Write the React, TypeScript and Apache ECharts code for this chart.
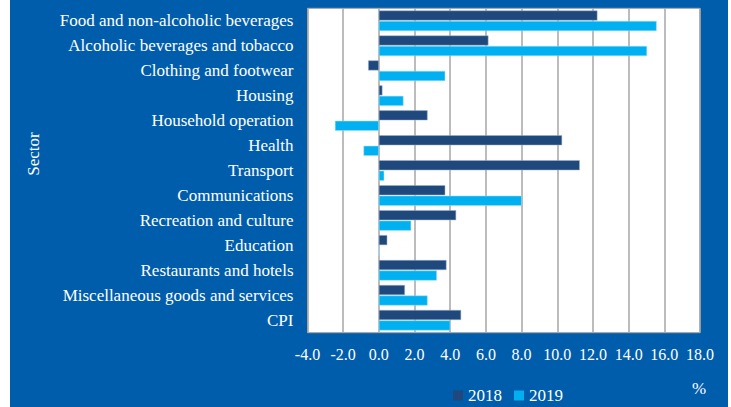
import React, { useEffect, useRef } from "react";
import * as echarts from "echarts";

const categories = [
  "Food and non-alcoholic beverages",
  "Alcoholic beverages and tobacco",
  "Clothing and footwear",
  "Housing",
  "Household operation",
  "Health",
  "Transport",
  "Communications",
  "Recreation and culture",
  "Education",
  "Restaurants and hotels",
  "Miscellaneous goods and services",
  "CPI",
];
const values2018 = [12.25, 6.14, -0.6, 0.2, 2.73, 10.27, 11.26, 3.72, 4.33, 0.47, 3.79, 1.46, 4.61];
const values2019 = [15.57, 15.03, 3.72, 1.38, -2.46, -0.86, 0.3, 8.01, 1.81, 0, 3.25, 2.73, 4.0];
const seriesNames = ["2018", "2019"];

const FONT = "Liberation Serif";

export default function App() {
  const ref = useRef<HTMLDivElement>(null);
  useEffect(() => {
    if (!ref.current) return;
    const chart = echarts.init(ref.current, undefined, { renderer: "svg" });
    chart.setOption({
      animation: false,
      textStyle: { fontFamily: FONT },
      graphic: [
        {
          type: "rect",
          z: -10,
          silent: true,
          shape: { x: 10, y: 0, width: 718, height: 407 },
          style: { fill: "#005DAB" },
        },
        {
          type: "text",
          x: 33,
          y: 154,
          rotation: Math.PI / 2,
          style: {
            text: "Sector",
            fill: "#ffffff",
            font: `17px "${FONT}"`,
            align: "center",
            verticalAlign: "middle",
          },
        },
        {
          type: "text",
          x: 699,
          y: 388,
          style: {
            text: "%",
            fill: "#ffffff",
            font: `17px "${FONT}"`,
            align: "center",
            verticalAlign: "middle",
          },
        },
      ],
      legend: {
        data: seriesNames,
        left: 448,
        top: 382,
        icon: "rect",
        itemWidth: 10,
        itemHeight: 10,
        itemGap: 12,
        itemStyle: { borderWidth: 0 },
        textStyle: { color: "#ffffff", fontFamily: FONT, fontSize: 17 },
      },
      grid: {
        left: 307.5,
        top: 8.3,
        width: 392.5,
        height: 324.4,
        show: true,
        backgroundColor: "#ffffff",
        borderColor: "#a0a0a0",
        borderWidth: 1,
      },
      xAxis: {
        type: "value",
        min: -4,
        max: 18,
        interval: 2,
        axisLine: { show: false },
        axisTick: { show: false },
        splitLine: { show: true, lineStyle: { color: "#a6a6a6", width: 1.5 } },
        axisLabel: {
          color: "#ffffff",
          fontFamily: FONT,
          fontSize: 16,
          margin: 14,
          formatter: (v: number) => v.toFixed(1),
        },
      },
      yAxis: {
        type: "category",
        inverse: true,
        data: categories,
        axisLine: { show: false },
        axisTick: { show: false },
        axisLabel: {
          color: "#ffffff",
          fontFamily: FONT,
          fontSize: 17,
          margin: 14,
          padding: [4, 0, 0, 0],
        },
      },
      series: [
        {
          name: seriesNames[0],
          type: "bar",
          data: values2018,
          barWidth: 10,
          barGap: "5%",
          itemStyle: { color: "#1F497D", borderColor: "#9fb3cc", borderWidth: 0.5 },
        },
        {
          name: seriesNames[1],
          type: "bar",
          data: values2019,
          barWidth: 10,
          barGap: "5%",
          itemStyle: { color: "#00B0F0", borderColor: "#9fe0f8", borderWidth: 0.5 },
        },
      ],
    });
    return () => chart.dispose();
  }, []);
  return (
    <div
      ref={ref}
      style={{ position: "fixed", left: 0, top: 0, width: 731, height: 407, background: "#ffffff" }}
    />
  );
}
